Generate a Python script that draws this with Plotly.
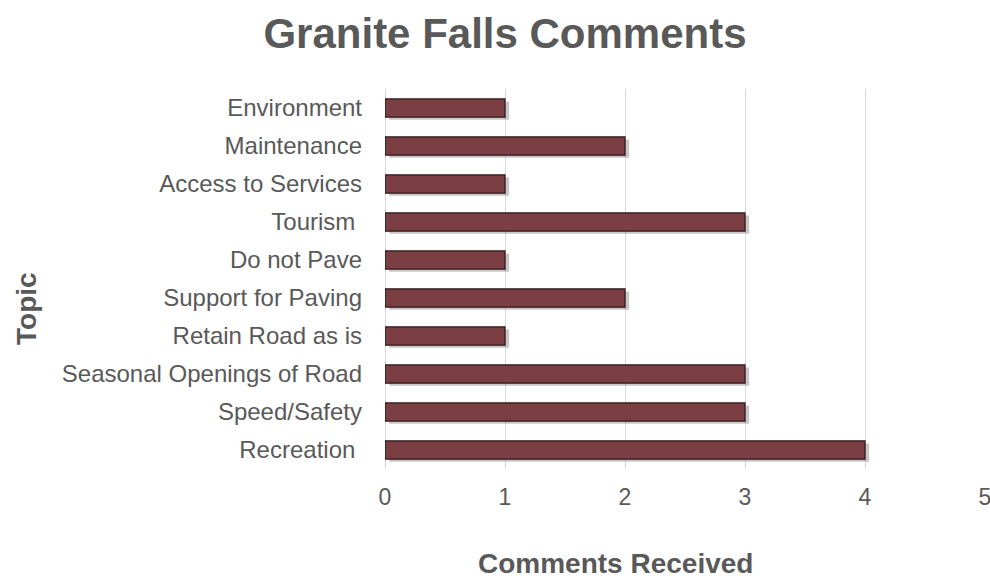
import plotly.graph_objects as go

# Comment topics (bottom to top as drawn) and their counts
topics = [
    "Recreation ",
    "Speed/Safety",
    "Seasonal Openings of Road",
    "Retain Road as is",
    "Support for Paving",
    "Do not Pave",
    "Tourism ",
    "Access to Services",
    "Maintenance",
    "Environment",
]
comments = [4, 3, 3, 1, 2, 1, 3, 1, 2, 1]
x_ticks = [0, 1, 2, 3, 4, 5]

GRAY = "#595959"
FONT = "Liberation Sans, Arial, sans-serif"
BAR_W = 0.48

fig = go.Figure()
# soft drop shadow behind each bar
fig.add_trace(go.Bar(
    y=topics,
    x=comments,
    base=0.035,
    orientation="h",
    width=BAR_W,
    offset=-BAR_W / 2 - 0.07,
    marker=dict(color="rgba(0,0,0,0.22)", line=dict(width=0)),
    hoverinfo="skip",
))
fig.add_trace(go.Bar(
    y=topics,
    x=comments,
    orientation="h",
    width=BAR_W,
    marker=dict(color="#7A3E43", line=dict(color="#2B1618", width=1.2)),
    hoverinfo="x+y",
))

fig.update_layout(
    width=990,
    height=579,
    paper_bgcolor="white",
    plot_bgcolor="white",
    margin=dict(l=385, r=5, t=89, b=110),
    barmode="overlay",
    showlegend=False,
    font=dict(family=FONT, color=GRAY, size=24),
    title=dict(
        text="<b>Granite Falls Comments</b>",
        x=505 / 990, xanchor="center",
        y=1 - 33 / 579, yanchor="middle",
        font=dict(size=42, color=GRAY, family=FONT),
    ),
    xaxis=dict(
        range=[0, 5],
        tickvals=x_ticks,
        automargin=False,
        showgrid=True,
        gridcolor="#D9D9D9",
        gridwidth=1,
        zeroline=True,
        zerolinecolor="#D9D9D9",
        zerolinewidth=1,
        showline=False,
        ticks="",
        ticklabelstandoff=12,
        ticklabeloverflow="allow",
        tickfont=dict(size=23, color=GRAY),
    ),
    yaxis=dict(
        categoryorder="array",
        categoryarray=topics,
        automargin=False,
        showgrid=False,
        showline=False,
        ticks="",
        ticklabelstandoff=22,
        tickfont=dict(size=24, color=GRAY),
    ),
    annotations=[
        dict(
            text="<b>Comments Received</b>",
            xref="paper", yref="paper",
            x=(615 - 385) / 600, y=-(563 - 469) / 380,
            xanchor="center", yanchor="middle",
            showarrow=False,
            font=dict(size=28, color=GRAY, family=FONT),
        ),
        dict(
            text="<b>Topic</b>",
            xref="paper", yref="paper",
            x=-(385 - 26) / 600, y=(469 - 308) / 380,
            xanchor="center", yanchor="middle",
            textangle=-90,
            showarrow=False,
            font=dict(size=28, color=GRAY, family=FONT),
        ),
    ],
)

fig.write_html("out.html")
